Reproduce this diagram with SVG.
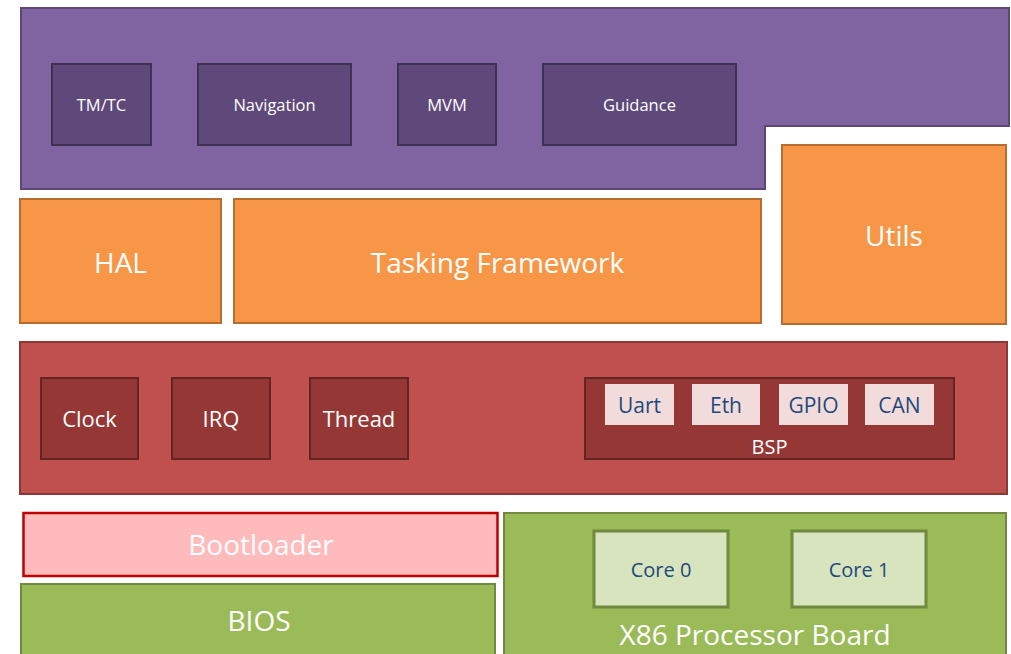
<svg xmlns="http://www.w3.org/2000/svg" width="1011" height="654" viewBox="0 0 1011 654">
<style>
text{font-family:"Open Sans","Noto Sans","Liberation Sans",sans-serif;text-anchor:middle;dominant-baseline:central;fill:#fff}
.pur{fill:#8064a2;stroke:#5c4776;stroke-width:2}
.pin{fill:#5f497a;stroke:#3f3151;stroke-width:2}
.org{fill:#f79646;stroke:#b66d31;stroke-width:2}
.red{fill:#c0504d;stroke:#8c3836;stroke-width:2}
.rin{fill:#953735;stroke:#632523;stroke-width:2}
.pnk{fill:#f2dcdb;stroke:none}
.grn{fill:#9bbb59;stroke:#71893f;stroke-width:2}
.gin{fill:#d7e4bd;stroke:#71893f;stroke-width:3}
.s{font-size:16.5px}
.m{font-size:22px}
.n{font-size:21px}
.c{font-size:20px}
.l{font-size:28px}
.b{fill:#1f497d}
</style>
<rect width="1011" height="654" fill="#fff"/>
<g id="app">
<polygon class="pur" points="21,8 1009,8 1009,126 765,126 765,189 21,189"/>
</g>
<g id="tmtc"><rect class="pin" x="52" y="64" width="99" height="81"/><text class="s" x="101.5" y="104">TM/TC</text></g>
<g id="navigation"><rect class="pin" x="198" y="64" width="153" height="81"/><text class="s" x="274.5" y="104">Navigation</text></g>
<g id="mvm"><rect class="pin" x="398" y="64" width="98" height="81"/><text class="s" x="447" y="104">MVM</text></g>
<g id="guidance"><rect class="pin" x="543" y="64" width="193" height="81"/><text class="s" x="639.5" y="104">Guidance</text></g>
<g id="hal"><rect class="org" x="20" y="199" width="201" height="124"/><text class="l" x="120.5" y="262">HAL</text></g>
<g id="tasking"><rect class="org" x="234" y="199" width="527" height="124"/><text class="l" x="497.5" y="262">Tasking Framework</text></g>
<g id="utils"><rect class="org" x="782" y="145" width="224" height="179"/><text class="l" x="894" y="235">Utils</text></g>
<g id="os"><rect class="red" x="20" y="342" width="987" height="152"/></g>
<g id="clock"><rect class="rin" x="41" y="378" width="97" height="81"/><text class="m" x="89.5" y="418">Clock</text></g>
<g id="irq"><rect class="rin" x="172" y="378" width="98" height="81"/><text class="m" x="221" y="418">IRQ</text></g>
<g id="thread"><rect class="rin" x="310" y="378" width="98" height="81"/><text class="m" x="359" y="418">Thread</text></g>
<g id="bsp"><rect class="rin" x="585" y="378" width="369" height="81"/><text class="c" x="769.5" y="446">BSP</text></g>
<g id="uart"><rect class="pnk" x="605" y="384" width="69" height="41"/><text class="n b" x="639.5" y="405">Uart</text></g>
<g id="eth"><rect class="pnk" x="692" y="384" width="68" height="41"/><text class="n b" x="726" y="405">Eth</text></g>
<g id="gpio"><rect class="pnk" x="779" y="384" width="69" height="41"/><text class="n b" x="813.5" y="405">GPIO</text></g>
<g id="can"><rect class="pnk" x="865" y="384" width="69" height="41"/><text class="n b" x="899.5" y="405">CAN</text></g>
<g id="bootloader"><rect x="23.5" y="513" width="474" height="63" fill="#ffbbbb" stroke="#c00000" stroke-width="2.5"/><text class="l" x="261" y="544">Bootloader</text></g>
<g id="bios"><rect class="grn" x="21" y="584" width="474" height="80"/><text class="l" x="259" y="620">BIOS</text></g>
<g id="x86"><rect class="grn" x="504" y="513" width="502" height="151"/><text class="l" x="755" y="634">X86 Processor Board</text></g>
<g id="core0"><rect class="gin" x="594" y="531" width="134" height="76"/><text class="c b" x="661" y="569">Core 0</text></g>
<g id="core1"><rect class="gin" x="792" y="531" width="134" height="76"/><text class="c b" x="859" y="569">Core 1</text></g>
<g id="connectors"/>
</svg>
